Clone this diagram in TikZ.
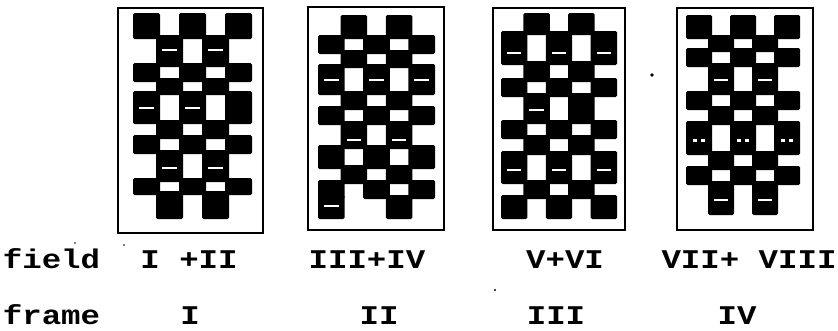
\documentclass[tikz,border=0pt]{standalone}
\usepackage{fontspec}
\usepackage{graphicx}
\setmonofont{Liberation Mono}
\tikzset{
  frm/.style={draw=black, line width=2.6pt, fill=none, inner sep=0pt},
  blk/.style={fill=black, rounded corners=1.5pt},
  lbl/.style={anchor=base, inner sep=0pt, font=\ttfamily\bfseries\fontsize{27}{30}\selectfont},
}
\newcommand\stretchtxt[1]{\scalebox{1.2}[1]{#1}}
\newcommand\cell[3]{\fill[blk] ({\px+#1*\cw-2},{#2-2}) rectangle ({\px+(#1+1)*\cw+2},{#3+2});}
\newcommand\rowA[2]{\cell{0}{#1}{#2}\cell{2}{#1}{#2}\cell{4}{#1}{#2}}
\newcommand\rowB[2]{\cell{1}{#1}{#2}\cell{3}{#1}{#2}}
\newcommand\rowC[2]{\cell{0}{#1}{#2}\cell{3}{#1}{#2}}
\newcommand\wdash[2]{\fill[white] ({\px+#1*\cw+4},{#2-1.1}) rectangle ({\px+(#1+1)*\cw-4},{#2+1.1});}
\begin{document}
\begin{tikzpicture}[x=1pt,y=-1pt]
\useasboundingbox (0,0) rectangle (838,330);
\fill[white] (0,0) rectangle (838,330);

% ---------- frame 1 ----------
\def\px{135}\def\cw{23}
\foreach \ya/\yb/\t in {15/37/A,37/65/B,65/80/A,80/93/B,93/122/A,122/137/B,137/152/A,152/180/B,180/193/A,193/217/B}{\csname row\t\endcsname{\ya}{\yb}}
\wdash{1}{50}\wdash{3}{50}\wdash{0}{108}\wdash{2}{108}\wdash{1}{168}\wdash{3}{168}
\node[frm, minimum width=145pt, minimum height=225pt] (f1) at (190.5,120.5) {};

% ---------- frame 2 ----------
\def\px{320}\def\cw{22.6}
\foreach \ya/\yb/\t in {17/37/B,37/52/A,52/66/B,66/93/A,93/108/B,108/123/A,123/147/B,147/167/A,167/182/B,182/197/A,197/217/C}{\csname row\t\endcsname{\ya}{\yb}}
\wdash{0}{80}\wdash{2}{80}\wdash{4}{80}\wdash{1}{140}\wdash{3}{140}\wdash{0}{206}
\node[frm, minimum width=136pt, minimum height=223pt] (f2) at (376,118.5) {};

% ---------- frame 3 ----------
\def\px{503}\def\cw{22.4}
\foreach \ya/\yb/\t in {15/33/B,33/63/A,63/80/B,80/95/A,95/122/B,122/137/A,137/153/B,153/182/A,182/197/B,197/217/A}{\csname row\t\endcsname{\ya}{\yb}}
\wdash{0}{53}\wdash{2}{53}\wdash{4}{53}\wdash{1}{110}\wdash{0}{170}\wdash{2}{170}\wdash{4}{170}
\node[frm, minimum width=132pt, minimum height=222pt] (f3) at (559,119) {};

% ---------- frame 4 ----------
\def\px{688}\def\cw{22}
\foreach \ya/\yb/\t in {17/37/A,37/50/B,50/65/A,65/93/B,93/108/A,108/123/B,123/153/A,153/168/B,168/183/A,183/213/B}{\csname row\t\endcsname{\ya}{\yb}}
\wdash{1}{80}\wdash{3}{80}\wdash{1}{200}\wdash{3}{200}
\foreach \xx in {0,2,4}{\fill[white] ({\px+\xx*\cw+5},139) rectangle ({\px+\xx*\cw+9},141.5);\fill[white] ({\px+\xx*\cw+13},139) rectangle ({\px+\xx*\cw+17},141.5);}
\node[frm, minimum width=136pt, minimum height=222pt] (f4) at (745,119) {};

% ---------- specks ----------
\fill (652,75) circle (1.8pt);
\fill (495,290) circle (1.1pt);
\fill (75,243) circle (0.9pt);
\fill (124,245) circle (0.8pt);

% ---------- labels ----------
\node[lbl] (fieldlbl) at (51.5,268) {\stretchtxt{field}};
\node[lbl] (fd1) at (189,268) {\stretchtxt{I +II}};
\node[lbl] (fd2) at (367,268) {\stretchtxt{III+IV}};
\node[lbl] (fd3) at (565,268) {\stretchtxt{V+VI}};
\node[lbl] (fd4) at (749,268) {\stretchtxt{VII+ VIII}};
\node[lbl] (framelbl) at (51.5,324) {\stretchtxt{frame}};
\node[lbl] (fr1) at (190,324) {\stretchtxt{I}};
\node[lbl] (fr2) at (379,324) {\stretchtxt{II}};
\node[lbl] (fr3) at (556,324) {\stretchtxt{III}};
\node[lbl] (fr4) at (737,324) {\stretchtxt{IV}};
\end{tikzpicture}
\end{document}
